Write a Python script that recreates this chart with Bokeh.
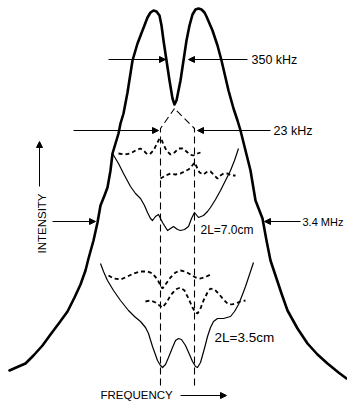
from bokeh.plotting import figure
from bokeh.models import Range1d, ColumnDataSource, Arrow, NormalHead
from bokeh.core.properties import value
from bokeh.embed import file_html
from bokeh.resources import INLINE
import math

# ---- data (picture coordinates: x = frequency axis, y = downward intensity) ----
outer_x = [9, 18, 25, 33, 42, 50, 59, 67, 74, 80, 85, 88, 93, 97, 100, 104, 107, 110, 112, 115, 118, 120, 123, 127, 132, 137, 142, 147, 150, 153, 156, 159, 161, 163, 166, 169, 172, 174, 176, 178, 180, 183, 186, 189, 192, 195, 198, 201, 204, 206, 212, 217, 221, 228, 233, 237, 240, 245, 250, 255, 262, 266, 270, 275, 281, 287, 297, 307, 317, 327, 338, 346]
outer_y = [370, 366, 363, 355, 345, 334, 322, 311, 297, 284, 270, 258, 240, 222, 205, 195, 187, 170, 153, 143, 133, 123, 113, 92, 60, 43, 30, 17, 12, 10, 11, 15, 25, 40, 60, 80, 98, 104, 100, 90, 80, 60, 40, 25, 14, 9, 8, 9, 12, 16, 30, 45, 60, 90, 108, 120, 130, 150, 170, 200, 218, 240, 260, 275, 293, 310, 328, 343, 354, 363, 372, 378]

thin70_x = [112, 118, 123, 130, 135, 140, 144, 147, 150, 152, 155, 158, 162, 167, 170, 173, 177, 180, 184, 188, 191, 194, 198, 203, 207, 210, 215, 220, 225, 230, 234, 238]
thin70_y = [153, 163, 173, 186, 193, 198, 205, 212, 218, 220, 216, 214, 222, 230, 228, 226, 229, 230, 229, 226, 218, 212, 217, 215, 211, 207, 199, 190, 180, 170, 160, 148]

dashA_x = [118, 124, 130, 135, 140, 144, 147, 150, 153, 156, 159, 161, 163, 166, 170, 174, 178, 182, 186, 189, 193, 197, 200]
dashA_y = [153, 154, 153, 150, 148, 151, 154, 153, 150, 144, 138, 139, 144, 150, 154, 152, 148, 148, 151, 154, 155, 153, 152]

dashB_x = [160, 165, 170, 175, 180, 184, 188, 191, 194, 196, 199, 203, 207, 210, 214, 217, 220, 223, 227, 231, 235]
dashB_y = [178, 175, 173, 174, 173, 171, 169, 166, 162, 166, 172, 174, 171, 171, 175, 178, 175, 173, 173, 175, 175]

thin35_x = [100, 103, 107, 113, 120, 128, 134, 140, 145, 148, 152, 157, 160, 162, 165, 168, 172, 175, 178, 181, 185, 189, 192, 195, 197, 200, 202, 205, 207, 210, 213, 217, 223, 230, 234, 238, 242, 245, 248, 251, 253]
thin35_y = [263, 271, 280, 290, 300, 310, 316, 321, 327, 333, 346, 360, 365, 367, 364, 357, 347, 340, 338, 339, 345, 354, 361, 366, 367, 362, 355, 344, 336, 327, 321, 318, 318, 316, 311, 304, 294, 286, 277, 268, 262]

dashC_x = [108, 113, 120, 127, 133, 140, 147, 152, 157, 160, 162, 165, 170, 175, 180, 185, 190, 195, 200, 206, 212]
dashC_y = [275, 278, 279, 276, 273, 271, 271, 273, 279, 285, 288, 284, 277, 272, 270, 271, 274, 277, 278, 276, 273]

dashD_x = [145, 150, 155, 159, 162, 166, 170, 175, 180, 184, 188, 192, 195, 197, 200, 203, 207, 210, 214, 218, 223, 227, 231, 235, 240, 245]
dashD_y = [301, 300, 302, 305, 307, 302, 295, 289, 287, 290, 298, 307, 312, 313, 308, 300, 292, 288, 289, 293, 299, 303, 304, 303, 301, 300]

guide_left_x = [160, 160, 174]
guide_left_y = [385, 128, 108]
guide_right_x = [194, 194, 174]
guide_right_y = [385, 128, 108]

arrow_x0 = [108, 247, 73, 270, 52, 300, 39, 180]
arrow_x1 = [165, 188, 158, 197, 95, 264, 39, 226]
arrow_y0 = [59, 59, 130, 130, 221, 221, 186, 395]
arrow_y1 = [59, 59, 130, 130, 221, 221, 141, 395]

label_text = ["350 kHz", "23 kHz", "3.4 MHz", "2L=7.0cm", "2L=3.5cm", "FREQUENCY"]
label_x = [251, 273, 302, 200, 214, 100]
label_y = [59, 130, 221, 229, 337, 394]
label_size = ["12.5px", "12.5px", "11px", "12px", "13.5px", "11.5px"]

axis_label = ["INTENSITY"]
axis_label_x = [41]
axis_label_y = [223]

FONT = "Liberation Sans"

p = figure(width=347, height=402, output_backend="svg", toolbar_location=None,
           x_range=Range1d(0, 347), y_range=Range1d(402, 0),
           x_axis_location=None, y_axis_location=None, min_border=0)
p.grid.visible = False
p.outline_line_color = None
p.background_fill_color = "white"

# guide dashed lines
p.line(guide_left_x, guide_left_y, line_color="black", line_width=1.1, line_dash="7 4")
p.line(guide_right_x, guide_right_y, line_color="black", line_width=1.1, line_dash="7 4")

# outer envelope
p.line(outer_x, outer_y, line_color="black", line_width=2.6, line_join="round", line_cap="round")

# 7.0 cm traces
p.line(thin70_x, thin70_y, line_color="black", line_width=1.2, line_join="round")
p.line(dashA_x, dashA_y, line_color="black", line_width=1.8, line_dash="4 3")
p.line(dashB_x, dashB_y, line_color="black", line_width=1.8, line_dash="4 3")

# 3.5 cm traces
p.line(thin35_x, thin35_y, line_color="black", line_width=1.2, line_join="round")
p.line(dashC_x, dashC_y, line_color="black", line_width=1.8, line_dash="4 3")
p.line(dashD_x, dashD_y, line_color="black", line_width=1.8, line_dash="4 3")

# arrows
src = ColumnDataSource(dict(x0=arrow_x0, x1=arrow_x1, y0=arrow_y0, y1=arrow_y1))
p.add_layout(Arrow(end=NormalHead(size=6, fill_color="black", line_color="black", line_width=1),
                   source=src, x_start="x0", y_start="y0", x_end="x1", y_end="y1",
                   line_color="black", line_width=1))

lsrc = ColumnDataSource(dict(t=label_text, x=label_x, y=label_y, s=label_size))
p.text(x="x", y="y", text="t", text_font_size="s", source=lsrc, text_font=value(FONT),
       text_color="black", text_align="left", text_baseline="middle")

p.text(x=axis_label_x, y=axis_label_y, text=axis_label, angle=math.pi / 2,
       text_font=value(FONT), text_font_size="11.5px", text_color="black",
       text_align="center", text_baseline="middle")

open("out.html", "w").write(file_html(p, INLINE))
